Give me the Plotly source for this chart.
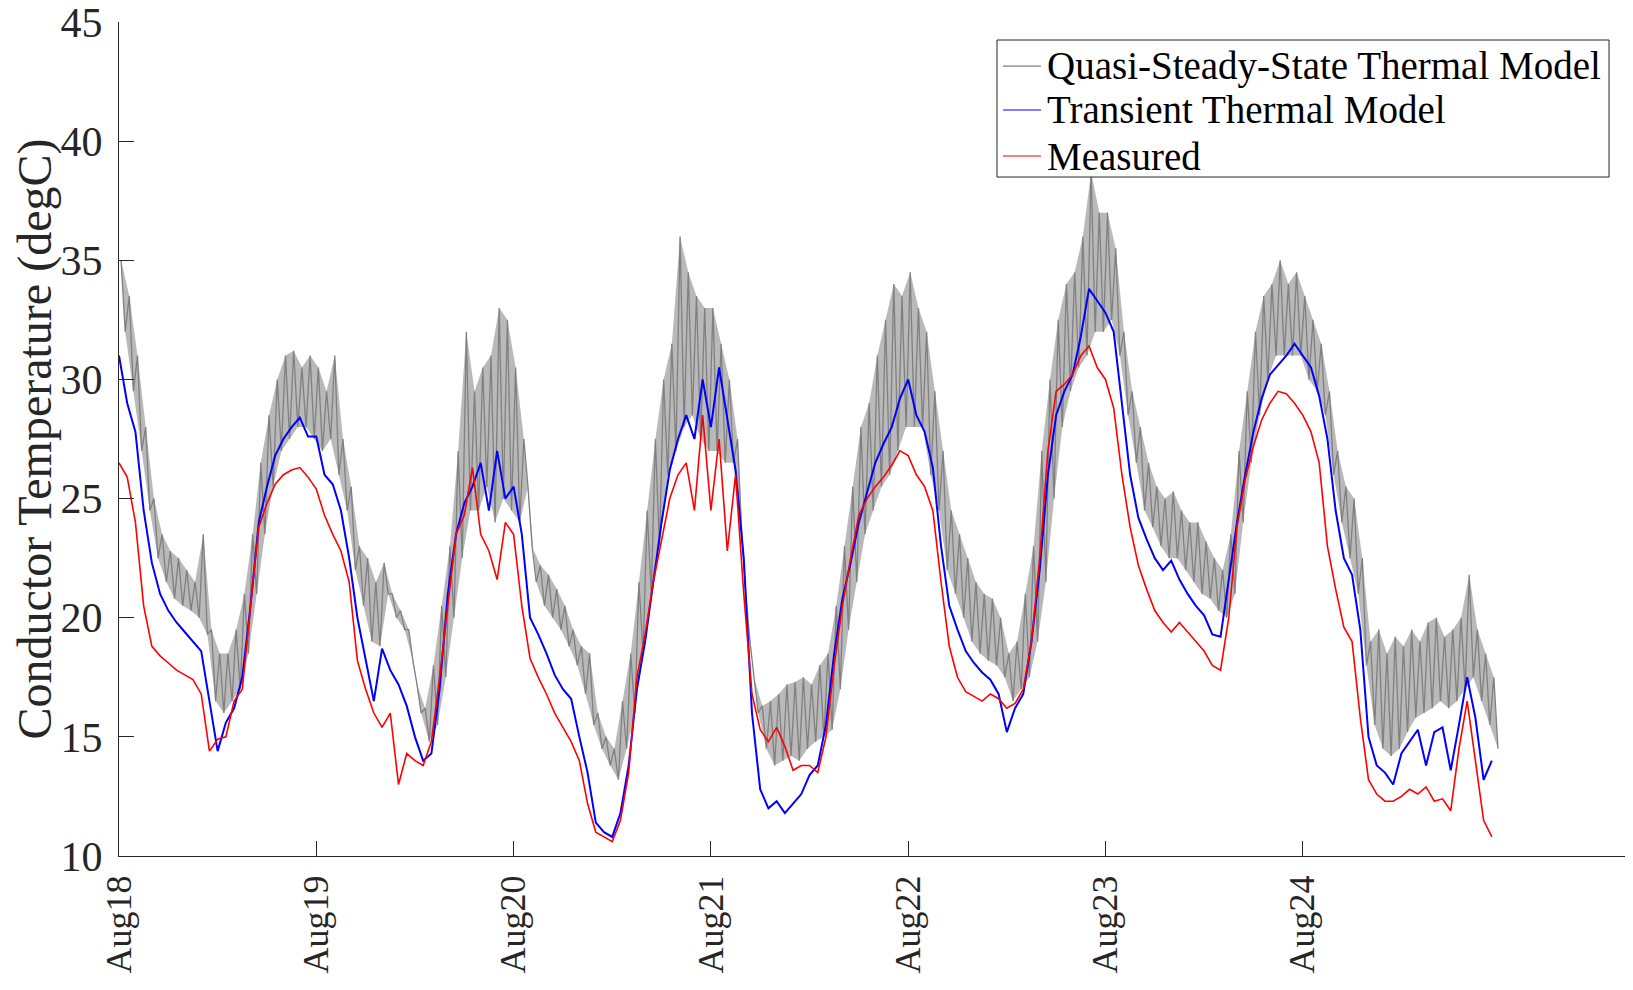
import numpy as np
import pandas as pd
import plotly.graph_objects as go

# ---- data (hourly readings, starting 18 Aug 00:00) ----
start_time = "2016-08-18 00:00"

measured = [
    # Aug18
    26.5, 25.9, 24.0, 20.5, 18.8, 18.4, 18.1, 17.8, 17.6, 17.4, 16.8, 14.4, 14.9, 15.0, 16.5, 17.0, 20.5, 23.8, 24.8, 25.6, 26.0, 26.2, 26.3, 25.9,
    # Aug19
    25.4, 24.3, 23.5, 22.8, 21.5, 18.2, 17.0, 16.0, 15.4, 16.0, 13.0, 14.3, 14.0, 13.8, 14.8, 17.5, 20.5, 23.5, 24.3, 26.3, 23.5, 22.8, 21.6, 24.0,
    # Aug20
    23.5, 20.5, 18.3, 17.5, 16.8, 16.0, 15.4, 14.8, 14.0, 12.2, 11.0, 10.8, 10.6, 11.5, 13.5, 17.5, 19.3, 21.5, 23.3, 25.0, 26.0, 26.5, 24.5, 28.5,
    # Aug21
    24.5, 27.5, 22.8, 26.0, 21.0, 16.8, 15.3, 14.8, 15.4, 14.6, 13.6, 13.8, 13.8, 13.5, 15.0, 18.0, 20.5, 22.5, 24.3, 25.0, 25.5, 25.9, 26.4, 27.0,
    # Aug22
    26.8, 26.0, 25.5, 24.5, 21.5, 18.8, 17.5, 16.9, 16.7, 16.5, 16.8, 16.6, 16.2, 16.4, 17.0, 19.0, 22.5, 27.0, 29.5, 29.8, 30.2, 31.0, 31.4, 30.5,
    # Aug23
    30.0, 28.8, 26.0, 23.8, 22.2, 21.2, 20.3, 19.8, 19.4, 19.8, 19.4, 19.0, 18.6, 18.0, 17.8, 20.0, 23.8, 25.8, 27.2, 28.3, 29.0, 29.5, 29.4, 29.0,
    # Aug24
    28.5, 27.8, 26.5, 23.0, 21.2, 19.6, 19.0, 15.8, 13.2, 12.6, 12.3, 12.3, 12.5, 12.8, 12.6, 12.9, 12.3, 12.4, 11.9, 14.5, 16.5, 14.0, 11.5, 10.8,
]

transient = [
    # Aug18
    31.0, 29.0, 27.8, 24.5, 22.3, 21.0, 20.3, 19.8, 19.4, 19.0, 18.6, 16.5, 14.4, 15.6, 16.2, 17.5, 20.5, 24.0, 25.5, 26.8, 27.5, 28.0, 28.4, 27.6,
    # Aug19
    27.6, 26.0, 25.6, 24.5, 22.5, 20.0, 18.2, 16.5, 18.7, 17.8, 17.2, 16.3, 15.0, 14.0, 14.3, 17.0, 21.0, 23.5, 24.8, 25.5, 26.5, 24.5, 27.0, 25.0,
    # Aug20
    25.5, 23.5, 20.0, 19.3, 18.5, 17.6, 17.0, 16.6, 15.0, 13.5, 11.4, 11.0, 10.8, 11.8, 13.8, 17.0, 19.0, 21.5, 24.0, 26.2, 27.5, 28.5, 27.5, 30.0,
    # Aug21
    28.0, 30.5, 28.3, 26.2, 22.5, 16.0, 12.8, 12.0, 12.3, 11.8, 12.2, 12.6, 13.4, 13.8, 15.5, 18.5, 20.8, 22.3, 24.0, 25.3, 26.5, 27.3, 28.0, 29.2,
    # Aug22
    30.0, 28.5, 27.8, 26.3, 23.0, 20.5, 19.5, 18.6, 18.1, 17.7, 17.4, 16.8, 15.2, 16.2, 16.8, 19.0, 22.0, 26.0, 28.5, 29.5, 30.2, 31.8, 33.8, 33.3,
    # Aug23
    32.8, 32.0, 29.0, 26.0, 24.2, 23.3, 22.5, 22.0, 22.4, 21.6, 21.0, 20.5, 20.1, 19.3, 19.2, 21.5, 24.0, 26.0, 27.8, 29.2, 30.2, 30.6, 31.0, 31.5,
    # Aug24
    31.0, 30.5, 29.3, 27.5, 24.5, 22.5, 21.8, 19.5, 15.0, 13.8, 13.5, 13.0, 14.3, 14.8, 15.3, 13.8, 15.2, 15.4, 13.6, 15.5, 17.5, 15.8, 13.2, 14.0,
]

# quasi-steady-state model: upper and lower readings within each hour
quasi_high = [
    # Aug18
    35.0, 33.5, 31.0, 28.0, 25.0, 23.5, 22.8, 22.5, 22.0, 21.5, 23.5, 19.5, 18.5, 18.5, 19.5, 21.0, 23.5, 26.5, 28.5, 30.0, 31.0, 31.2, 30.5, 31.0,
    # Aug19
    30.5, 29.5, 31.0, 27.5, 25.5, 23.0, 22.5, 21.5, 22.3, 21.0, 20.3, 19.5, 17.2, 16.2, 18.0, 20.5, 23.0, 27.0, 32.0, 29.5, 30.5, 31.0, 33.0, 32.5,
    # Aug20
    30.5, 27.5, 23.0, 22.2, 21.8, 21.2, 20.5, 19.5, 18.8, 18.5, 16.0, 15.0, 14.5, 16.5, 18.5, 21.5, 24.5, 27.5, 30.0, 31.5, 36.0, 34.5, 33.5, 33.0,
    # Aug21
    33.0, 31.5, 30.0, 27.5, 21.0, 17.5, 16.3, 16.5, 16.8, 17.2, 17.3, 17.5, 17.2, 18.0, 18.5, 20.5, 23.0, 25.5, 28.0, 29.0, 31.0, 32.5, 34.0, 33.5,
    # Aug22
    34.5, 33.0, 32.0, 29.5, 27.0, 24.5, 23.5, 22.5, 21.5, 21.0, 20.8, 20.0, 18.5, 19.0, 21.0, 23.0, 27.0, 30.0, 32.5, 34.0, 34.5, 36.0, 38.7, 37.0,
    # Aug23
    37.0, 35.5, 32.0, 29.5, 28.0, 26.5, 25.5, 25.0, 25.3, 24.5, 24.0, 24.0, 23.2, 22.5, 22.0, 23.5, 27.0, 29.5, 32.0, 33.5, 34.0, 35.0, 34.0, 34.5,
    # Aug24
    33.5, 32.5, 31.5, 29.5, 27.0, 25.5, 25.0, 22.5, 19.0, 19.5, 18.5, 19.2, 18.8, 19.5, 19.0, 19.8, 20.0, 19.2, 19.5, 20.0, 21.8, 19.5, 18.5, 17.5,
]
quasi_low = [
    # Aug18
    32.0, 29.5, 27.0, 24.5, 22.5, 21.5, 20.8, 20.5, 20.3, 20.0, 19.3, 16.5, 16.0, 16.5, 17.0, 18.5, 21.0, 23.5, 25.5, 27.0, 27.5, 28.0, 28.0, 27.5,
    # Aug19
    27.0, 27.5, 26.0, 24.5, 22.0, 20.5, 19.0, 18.8, 21.0, 20.0, 19.5, 18.2, 16.0, 14.8, 15.5, 17.5, 20.0, 22.5, 24.5, 24.5, 25.5, 24.0, 25.0, 24.5,
    # Aug20
    24.0, 25.5, 21.5, 20.5, 20.0, 19.5, 18.8, 18.0, 16.8, 15.5, 14.5, 13.8, 13.2, 14.5, 16.0, 18.5, 21.0, 23.0, 26.0, 27.0, 28.0, 28.5, 27.5, 27.0,
    # Aug21
    27.0, 26.5, 26.5, 23.5, 19.0, 16.0, 14.5, 13.8, 14.0, 14.2, 14.0, 14.5, 14.8, 15.0, 15.3, 17.0, 19.5, 21.5, 23.5, 24.5, 25.5, 26.0, 27.0, 28.0,
    # Aug22
    28.0, 28.0, 26.0, 24.5, 22.0, 21.0, 20.0, 19.0, 18.5, 18.2, 18.0, 17.5, 16.5, 17.0, 17.5, 19.0, 21.5, 25.0, 28.0, 29.5, 30.5, 31.0, 32.0, 32.0,
    # Aug23
    32.5, 31.0, 28.5, 26.5, 24.5, 23.8, 23.0, 22.5, 22.5, 22.0, 21.5, 21.0, 20.8, 20.3, 20.0, 21.0, 24.0, 26.5, 28.5, 30.0, 31.0, 31.0, 31.0, 31.0,
    # Aug24
    30.0, 29.5, 28.5, 26.0, 24.0, 22.5, 21.0, 18.0, 15.5, 14.5, 14.2, 14.5, 15.2, 15.8, 16.0, 16.2, 16.5, 16.2, 16.5, 17.0, 17.5, 16.5, 15.5, 14.5,
]

series_names = ["Quasi-Steady-State Thermal Model", "Transient Thermal Model", "Measured"]
series_colors = ["rgb(128,128,128)", "rgb(0,0,255)", "rgb(255,0,0)"]

tick_dates = ["2016-08-18", "2016-08-19", "2016-08-20", "2016-08-21",
              "2016-08-22", "2016-08-23", "2016-08-24"]
tick_labels = ["Aug18", "Aug19", "Aug20", "Aug21", "Aug22", "Aug23", "Aug24"]
y_ticks = [10, 15, 20, 25, 30, 35, 40, 45]

# ---- build time axes ----
t0 = pd.Timestamp(start_time)
n = len(measured)
t_hour = t0 + pd.to_timedelta(np.arange(n), unit="h")
t_hi = t_hour + pd.Timedelta(minutes=15)
t_lo = t_hour + pd.Timedelta(minutes=45)
t_q = []
q_vals = []
for i in range(n):
    t_q.append(t_hi[i])
    q_vals.append(quasi_high[i])
    t_q.append(t_lo[i])
    q_vals.append(quasi_low[i])

FONT = "Liberation Serif"
AX = "#262626"

fig = go.Figure()
# dense band of the quasi-steady-state model (between its hourly lows and highs)
fig.add_trace(go.Scatter(x=t_lo, y=quasi_low, mode="lines", hoverinfo="skip",
                         line=dict(width=0, color="rgba(128,128,128,0)")))
fig.add_trace(go.Scatter(x=t_hi, y=quasi_high, mode="lines", hoverinfo="skip",
                         fill="tonexty", fillcolor="rgba(128,128,128,0.55)",
                         line=dict(width=0, color="rgba(128,128,128,0)")))
fig.add_trace(go.Scatter(x=t_q, y=q_vals, mode="lines", name=series_names[0],
                         line=dict(color=series_colors[0], width=1.3)))
fig.add_trace(go.Scatter(x=t_hour, y=transient, mode="lines", name=series_names[1],
                         line=dict(color=series_colors[1], width=2)))
fig.add_trace(go.Scatter(x=t_hour, y=measured, mode="lines", name=series_names[2],
                         line=dict(color=series_colors[2], width=1.6)))

# ---- legend box drawn in paper coordinates ----
shapes = [dict(type="rect", xref="paper", yref="paper",
               x0=0.5830, x1=0.9894, y0=0.8141, y1=0.9784,
               line=dict(color=AX, width=1), fillcolor="white", layer="above")]
annotations = []
legend_rows_y = [0.9472, 0.8945, 0.8393]
for name, col, yy in zip(series_names, series_colors, legend_rows_y):
    shapes.append(dict(type="line", xref="paper", yref="paper",
                       x0=0.5870, x1=0.6122, y0=yy, y1=yy,
                       line=dict(color=col, width=1.2), layer="above"))
    annotations.append(dict(xref="paper", yref="paper", x=0.6150, y=yy,
                            xanchor="left", yanchor="middle", showarrow=False,
                            text=name, font=dict(family=FONT, size=39, color="black")))

fig.update_layout(
    width=1617, height=974,
    margin=dict(l=111, r=0, t=14, b=126),
    paper_bgcolor="white", plot_bgcolor="white",
    font=dict(family=FONT, color=AX),
    showlegend=False,
    shapes=shapes, annotations=annotations,
)
fig.update_xaxes(
    range=["2016-08-18 00:00", "2016-08-25 15:12"],
    tickmode="array", tickvals=tick_dates, ticktext=tick_labels,
    tickangle=-90, tickfont=dict(family=FONT, size=36, color=AX),
    ticks="inside", ticklen=15, tickcolor=AX, tickwidth=1,
    showline=True, linecolor=AX, linewidth=1, mirror=False,
    showgrid=False, zeroline=False, automargin=False,
    ticklabelstandoff=4, ticklabeloverflow="allow",
)
fig.update_yaxes(
    range=[10, 45], tickmode="array", tickvals=y_ticks,
    tickfont=dict(family=FONT, size=42, color=AX),
    ticks="inside", ticklen=15, tickcolor=AX, tickwidth=1,
    showline=True, linecolor=AX, linewidth=1, mirror=False,
    showgrid=False, zeroline=False, automargin=False,
    ticklabelstandoff=7, ticklabeloverflow="allow",
    title=dict(text="Conductor Temperature (degC)",
               font=dict(family=FONT, size=48, color=AX), standoff=9),
)

fig.write_html("out.html")
